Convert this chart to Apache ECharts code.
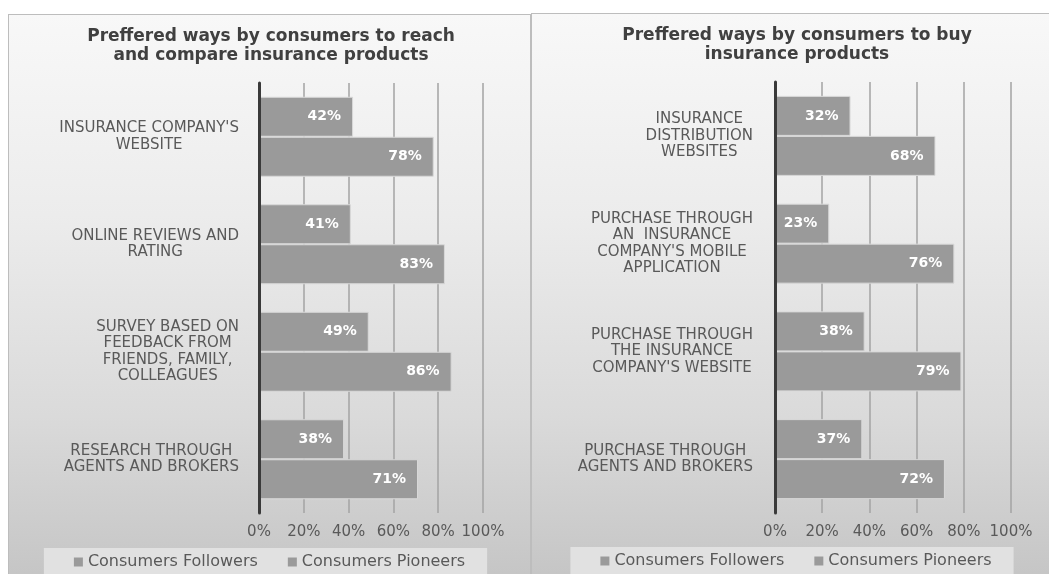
<!DOCTYPE html>
<html>
<head>
<meta charset="utf-8">
<script src="https://cdn.jsdelivr.net/npm/echarts@6/dist/echarts.min.js"></script>
<style>
  html, body { margin: 0; padding: 0; width: 1049px; height: 574px; overflow: hidden; background: #ffffff; }
  .panel { position: absolute; box-sizing: border-box; border: 1px solid #bdbdbd;
    background: linear-gradient(to bottom, #f8f8f8 0%, #ececec 35%, #dadada 70%, #c4c4c4 100%); }
  #left { left: 8px; top: 14px; width: 523px; height: 575px; }
  #right { left: 531px; top: 13px; width: 530px; height: 576px; }
</style>
</head>
<body>
<div id="left" class="panel"></div>
<div id="right" class="panel"></div>
<script>
const seriesNames = ['Consumers Followers', 'Consumers Pioneers'];
const tickValues = [0, 20, 40, 60, 80, 100];

const leftTitle = 'Preffered ways by consumers to reach\nand compare insurance products';
const leftCategories = [
  "INSURANCE COMPANY'S\nWEBSITE",
  "ONLINE REVIEWS AND\nRATING",
  "SURVEY BASED ON\nFEEDBACK FROM\nFRIENDS, FAMILY,\nCOLLEAGUES",
  "RESEARCH THROUGH\nAGENTS AND BROKERS"
];
const leftFollowers = [42, 41, 49, 38];
const leftPioneers = [78, 83, 86, 71];

const rightTitle = 'Preffered ways by consumers to buy\ninsurance products';
const rightCategories = [
  "INSURANCE\nDISTRIBUTION\nWEBSITES",
  "PURCHASE THROUGH\nAN  INSURANCE\nCOMPANY'S MOBILE\nAPPLICATION",
  "PURCHASE THROUGH\nTHE INSURANCE\nCOMPANY'S WEBSITE",
  "PURCHASE THROUGH\nAGENTS AND BROKERS"
];
const rightFollowers = [32, 23, 38, 37];
const rightPioneers = [68, 76, 79, 72];

const FONT = 'DejaVu Sans';
const TXT = '#595959';

function buildOption(title, categories, followers, pioneers, grid, labelMargin, titleCenter) {
  const barSeries = (name, data) => ({
    name: name,
    type: 'bar',
    data: data,
    barWidth: 40,
    barGap: '0%',
    z: 2,
    itemStyle: { color: '#9a9a9a', borderColor: '#d9d9d9', borderWidth: 1 },
    label: {
      show: true, position: 'insideRight', distance: 12,
      formatter: '{c}%', color: '#ffffff', fontWeight: 'bold',
      fontFamily: FONT, fontSize: 14
    },
    emphasis: { disabled: true },
    animation: false
  });
  return {
    animation: false,
    title: {
      text: title, left: titleCenter, top: 12, padding: 0,
      textAlign: 'center',
      textStyle: { fontFamily: FONT, fontSize: 17, fontWeight: 'bold', color: '#404040', lineHeight: 19 }
    },
    legend: {
      data: seriesNames, left: 'center', top: 533,
      icon: 'rect', itemWidth: 9, itemHeight: 9, itemGap: 30,
      padding: [6, 22, 6, 30], backgroundColor: '#e1e1e1',
      textStyle: { fontFamily: FONT, fontSize: 16, color: TXT },
      itemStyle: { color: '#9a9a9a', borderWidth: 0 },
      selectedMode: false
    },
    grid: grid,
    xAxis: {
      type: 'value', min: tickValues[0], max: tickValues[tickValues.length - 1], interval: 20,
      axisLine: { show: false }, axisTick: { show: false },
      axisLabel: { formatter: '{value}%', fontFamily: FONT, fontSize: 15, color: TXT, margin: 12 },
      splitLine: { show: true, lineStyle: { color: '#a3a3a3', width: 1.5 } }
    },
    yAxis: {
      type: 'category', data: categories, inverse: true, z: 5,
      axisLine: { show: true, lineStyle: { color: '#3a3a3a', width: 3 } },
      axisTick: { show: false },
      axisLabel: {
        margin: labelMargin, align: 'right',
        formatter: (v) => v.split('\n').map(l => '{c|' + l + '}').join('\n'),
        rich: { c: { align: 'center', fontFamily: FONT, fontSize: 15, color: TXT, lineHeight: 16.5 } }
      }
    },
    series: [barSeries(seriesNames[0], followers), barSeries(seriesNames[1], pioneers)]
  };
}

const leftChart = echarts.init(document.getElementById('left'), null, { renderer: 'canvas' });
leftChart.setOption(buildOption(leftTitle, leftCategories, leftFollowers, leftPioneers,
  { left: 250, top: 68, width: 224, height: 430 }, 20, 262));

const rightChart = echarts.init(document.getElementById('right'), null, { renderer: 'canvas' });
rightChart.setOption(buildOption(rightTitle, rightCategories, rightFollowers, rightPioneers,
  { left: 243, top: 68, width: 236, height: 431 }, 22, 265));
</script>
</body>
</html>
